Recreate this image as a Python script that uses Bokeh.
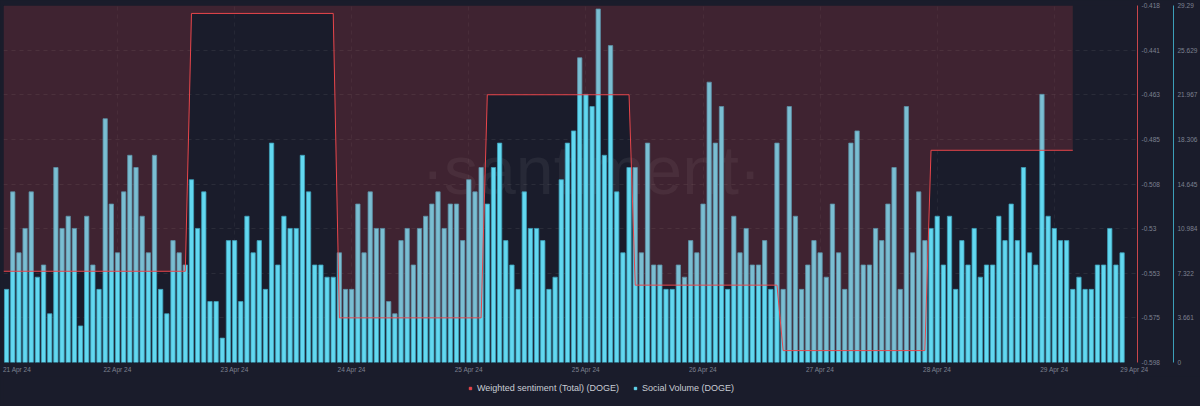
from bokeh.plotting import figure
from bokeh.layouts import column
from bokeh.models import Range1d, LinearAxis, FixedTicker, Label, Legend, LegendItem, Grid
from bokeh.embed import file_html
from bokeh.resources import INLINE

# ---------------- data ----------------
social_volume = [
    6, 14, 9, 11, 14, 7, 8, 4, 16, 11, 12, 11, 3, 12, 8, 6, 20, 13, 9, 14,
    17, 16, 12, 9, 17, 6, 4, 10, 9, 8, 15, 11, 14, 5, 5, 2, 10, 10, 5, 12,
    9, 10, 6, 18, 8, 12, 11, 11, 17,
    14, 8, 8, 7, 7, 9, 6, 6, 13, 9, 14, 11, 11, 5, 4, 10, 11, 8, 11, 12,
    13, 14, 11, 13, 13, 10, 15, 14, 16, 13, 16, 18, 10, 8, 6, 14, 11, 11, 10, 6,
    7, 15, 18, 19, 25, 22, 21, 29,
    17, 26, 14, 9, 16, 16, 9, 18, 8, 8, 6, 6, 8, 7, 10, 9, 13, 23, 18, 21,
    6, 12, 9, 11, 8, 8, 10, 6, 18, 6, 21, 12, 6, 8, 10, 9, 7, 13, 9, 6,
    18, 19, 8, 8, 11, 10, 13, 16, 6,
    21, 9, 14, 10, 11, 12, 8, 12, 6, 10, 8, 11, 7, 8, 8, 12, 10, 13, 10, 16,
    9, 8, 22, 12, 11, 10, 10, 6, 7, 6, 6, 8, 8, 11, 8, 9,
]
hours = list(range(len(social_volume)))

# weighted sentiment: one value per day, start hour of each day segment
sentiment_values = [-0.552, -0.422, -0.5755, -0.463, -0.559, -0.592, -0.491]
sentiment_starts = [-0.5, 30, 54, 78, 102, 126, 150]
sentiment_last_hour = 173

x_tick_pos = [1.7, 18, 37, 56, 75, 94, 113, 132, 151, 170, 183]
x_tick_labels = ["21 Apr 24", "22 Apr 24", "23 Apr 24", "24 Apr 24", "25 Apr 24",
                 "25 Apr 24", "26 Apr 24", "27 Apr 24", "28 Apr 24", "29 Apr 24",
                 "29 Apr 24"]

sent_tick_pos = [-0.418, -0.4405, -0.463, -0.4855, -0.508, -0.5305, -0.553, -0.5755, -0.598]
sent_tick_labels = ["-0.418", "-0.441", "-0.463", "-0.485", "-0.508", "-0.53",
                    "-0.553", "-0.575", "-0.598"]
social_tick_pos = [0, 3.661, 7.322, 10.984, 14.645, 18.306, 21.967, 25.629, 29.29]
social_tick_labels = ["0", "3.661", "7.322", "10.984", "14.645", "18.306",
                      "21.967", "25.629", "29.29"]

series_names = ["Weighted sentiment (Total) (DOGE)", "Social Volume (DOGE)"]

# ---------------- styles ----------------
BG = "#1a1c2b"
RED = "#e8464b"
CYAN = "#62d8f0"
CYAN_EDGE = "#3f9fb9"
GREY = "#7d8291"
FONT = "Liberation Sans"
AX_FS = "6.5px"

x_start, x_end = sentiment_starts[0], 183.5
sent_lo, sent_hi = sent_tick_pos[-1], sent_tick_pos[0]
soc_lo, soc_hi = social_tick_pos[0], social_tick_pos[-1]

p = figure(width=1200, height=376, output_backend="svg", toolbar_location=None,
           x_range=Range1d(x_start, x_end), y_range=Range1d(soc_lo, soc_hi),
           x_axis_location=None, y_axis_location=None,
           min_border_left=3, min_border_top=5, min_border_right=63, min_border_bottom=14,
           background_fill_color=BG, border_fill_color=BG, outline_line_color=None)
p.extra_y_ranges = {"sent": Range1d(sent_lo, sent_hi)}
p.xgrid.visible = False
p.ygrid.visible = False

# grids
p.add_layout(Grid(dimension=1, ticker=FixedTicker(ticks=social_tick_pos),
                  grid_line_color="#ffffff", grid_line_alpha=0.07, grid_line_dash="4 4"), "center")
p.add_layout(Grid(dimension=0, ticker=FixedTicker(ticks=x_tick_pos[1:-1]),
                  grid_line_color="#ffffff", grid_line_alpha=0.05, grid_line_dash="4 4"), "center")

# watermark
p.add_layout(Label(x=94.9, y=15.8, text="·santiment·", text_font=FONT, text_font_size="68px",
                   text_color="#ffffff", text_alpha=0.06, text_align="center",
                   text_baseline="middle", level="underlay"))

# bars
bars = p.vbar(x=hours, top=social_volume, bottom=0, width=0.7,
              fill_color=CYAN, line_color=CYAN_EDGE, line_width=0.8)

# sentiment step line
line_x, line_y = [], []
for k, v in enumerate(sentiment_values):
    s = sentiment_starts[k]
    e = sentiment_starts[k + 1] - 1 if k + 1 < len(sentiment_starts) else sentiment_last_hour
    line_x += [s, e]
    line_y += [v, v]

p.varea(x=line_x, y1=line_y, y2=[sent_hi] * len(line_x), y_range_name="sent",
        fill_color=RED, fill_alpha=0.18)
p.line(line_x, line_y, y_range_name="sent", line_color=RED, line_width=1)

# axes
xaxis = LinearAxis(ticker=FixedTicker(ticks=x_tick_pos),
                   major_label_overrides=dict(zip(x_tick_pos, x_tick_labels)),
                   axis_line_color=None, major_tick_line_color=None, minor_tick_line_color=None,
                   major_tick_out=0, major_tick_in=0,
                   major_label_text_color=GREY, major_label_text_font_size=AX_FS,
                   major_label_text_font=FONT, major_label_standoff=3)
p.add_layout(xaxis, "below")

sent_axis = LinearAxis(y_range_name="sent", ticker=FixedTicker(ticks=sent_tick_pos),
                       major_label_overrides=dict(zip(sent_tick_pos, sent_tick_labels)),
                       axis_line_color="#c9454a", major_tick_line_color=None,
                       minor_tick_line_color=None, major_tick_out=0, major_tick_in=0,
                       major_label_text_color=GREY,
                       major_label_text_font_size=AX_FS, major_label_text_font=FONT,
                       major_label_standoff=4,
                       axis_label=" ", axis_label_text_font_size="6px", axis_label_standoff=2)
p.add_layout(sent_axis, "right")

soc_axis = LinearAxis(ticker=FixedTicker(ticks=social_tick_pos),
                      major_label_overrides=dict(zip(social_tick_pos, social_tick_labels)),
                      axis_line_color="#3c9fb8", major_tick_line_color=None,
                      minor_tick_line_color=None, major_tick_out=0, major_tick_in=0,
                      major_label_text_color=GREY,
                      major_label_text_font_size=AX_FS, major_label_text_font=FONT,
                      major_label_standoff=4)
p.add_layout(soc_axis, "right")

# current value markers
p.add_layout(Label(x=x_end, y=sentiment_values[-1], y_range_name="sent", x_offset=3,
                   text=f"{sentiment_values[-1]:.3f}", text_font=FONT, text_font_size=AX_FS,
                   text_color="#ffffff", background_fill_color=RED,
                   border_line_color=RED, border_line_width=2,
                   text_baseline="middle", text_align="left"))
p.add_layout(Label(x=x_end, y=social_volume[-1], x_offset=34,
                   text=f"{social_volume[-1]}", text_font=FONT, text_font_size=AX_FS,
                   text_color=BG, background_fill_color=CYAN,
                   border_line_color=CYAN, border_line_width=2,
                   text_baseline="middle", text_align="left"))

# legend strip below the chart (proxy markers have no visible position)
lg = figure(width=1200, height=30, output_backend="svg", toolbar_location=None,
            x_range=Range1d(0, 1), y_range=Range1d(0, 1),
            x_axis_location=None, y_axis_location=None, min_border=0,
            background_fill_color=BG, border_fill_color=BG, outline_line_color=None)
lg.grid.visible = False
nan = float("nan")
leg_red = lg.scatter(x=[nan], y=[nan], marker="square", size=6, fill_color=RED, line_color=RED)
leg_cyan = lg.scatter(x=[nan], y=[nan], marker="square", size=6, fill_color=CYAN, line_color=CYAN)
legend = Legend(items=[LegendItem(label=series_names[0], renderers=[leg_red]),
                       LegendItem(label=series_names[1], renderers=[leg_cyan])],
                orientation="horizontal", location=(464, 12),
                background_fill_alpha=0, border_line_color=None,
                label_text_color="#c9ccd4", label_text_font=FONT, label_text_font_size="9px",
                glyph_width=6, glyph_height=6, label_height=12, label_standoff=4,
                spacing=13, padding=5, margin=0)
lg.add_layout(legend, "center")

layout = column(p, lg, spacing=0)

html = file_html(layout, INLINE)
html = html.replace("<body>", '<body style="background-color:#1a1c2b;">')
open("out.html", "w").write(html)
